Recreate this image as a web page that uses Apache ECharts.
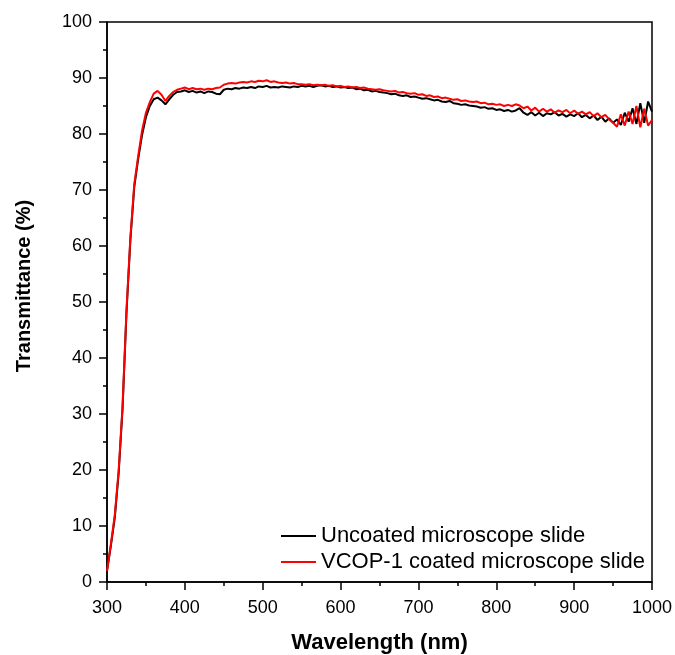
<!DOCTYPE html>
<html>
<head>
<meta charset="utf-8">
<script src="https://cdn.jsdelivr.net/npm/echarts@6/dist/echarts.min.js"></script>
<style>html,body{margin:0;padding:0;background:#fff;}#c{width:675px;height:655px;}</style>
</head>
<body>
<div id="c"></div>
<script>
const wavelength = [300,305,310,315,320,325,330,335,340,345,350,355,360,365,370,375,380,385,390,395,
400,405,410,415,420,425,430,435,440,445,450,455,460,465,470,475,480,485,490,495,
500,505,510,515,520,525,530,535,540,545,550,555,560,565,570,575,580,585,590,595,
600,605,610,615,620,625,630,635,640,645,650,655,660,665,670,675,680,685,690,695,
700,705,710,715,720,725,730,735,740,745,750,755,760,765,770,775,780,785,790,795,
800,805,810,815,820,825,830,835,840,845,850,855,860,865,870,875,880,885,890,895,
900,905,910,915,920,925,930,935,940,945,950,955,960,965,970,975,980,985,990,995,1000];

const uncoated = [2.0,6.5,11.5,19.5,31.0,48.0,61.0,70.5,75.5,79.8,83.0,85.0,86.2,86.5,86.0,85.3,86.2,87.0,87.5,87.6,
87.8,87.5,87.7,87.4,87.6,87.3,87.6,87.5,87.2,87.1,87.9,88.1,88.0,88.2,88.1,88.3,88.2,88.4,88.2,88.5,
88.4,88.6,88.3,88.4,88.3,88.5,88.4,88.3,88.5,88.4,88.6,88.5,88.6,88.4,88.6,88.7,88.5,88.6,88.4,88.5,
88.3,88.4,88.2,88.3,88.0,88.1,87.8,87.9,87.6,87.7,87.5,87.4,87.3,87.1,87.2,86.9,86.8,86.9,86.6,86.7,
86.5,86.3,86.4,86.2,86.0,86.1,85.8,85.7,85.9,85.5,85.4,85.2,85.3,85.1,85.0,84.9,84.7,84.8,84.5,84.6,
84.3,84.4,84.1,84.3,84.0,84.2,84.6,83.8,83.4,83.9,83.3,83.8,83.2,83.7,83.5,83.9,83.3,83.6,83.1,83.5,
83.2,83.7,83.0,83.4,82.8,83.3,82.5,83.1,82.2,82.8,82.0,82.6,81.6,83.8,82.2,84.6,81.8,85.5,82.0,85.8,84.0];

const coated = [2.0,6.8,12.0,20.0,31.5,48.5,61.5,71.0,76.0,80.6,83.8,85.7,87.2,87.7,87.0,85.9,86.8,87.5,87.9,88.1,
88.3,88.0,88.2,88.0,88.1,87.9,88.1,88.0,88.2,88.3,88.8,89.0,89.1,89.0,89.2,89.3,89.2,89.4,89.3,89.5,
89.4,89.6,89.3,89.4,89.2,89.1,89.2,89.0,89.1,88.9,88.9,88.8,88.9,88.7,88.8,88.7,88.8,88.6,88.7,88.5,
88.6,88.4,88.5,88.3,88.4,88.2,88.3,88.1,88.0,87.9,88.0,87.8,87.7,87.6,87.7,87.4,87.5,87.3,87.2,87.3,
87.0,87.1,86.8,86.9,86.6,86.7,86.4,86.5,86.3,86.1,86.2,85.9,86.0,85.8,85.7,85.8,85.5,85.6,85.3,85.4,
85.2,85.3,85.0,85.2,85.0,85.3,85.1,84.6,84.9,84.2,84.7,84.0,84.5,84.0,84.4,83.8,84.2,83.9,84.3,83.7,
84.2,83.6,84.0,83.5,83.9,83.2,83.7,83.0,83.4,82.6,82.0,81.3,83.5,81.5,84.0,81.8,85.0,81.2,84.5,81.5,82.5];

const seriesNames = ['Uncoated microscope slide', 'VCOP-1 coated microscope slide'];
const xTitle = 'Wavelength (nm)';
const yTitle = 'Transmittance (%)';

const chart = echarts.init(document.getElementById('c'), null, {renderer: 'canvas'});
const font = 'Arial, "Liberation Sans", sans-serif';
const axisCommon = {
  axisLine: {show: true, lineStyle: {color: '#000', width: 1.5}},
  axisTick: {show: true, inside: false, length: 8, lineStyle: {color: '#000', width: 1.5}},
  minorTick: {show: true, splitNumber: 2, length: 4, lineStyle: {color: '#000', width: 1.5}},
  splitLine: {show: false},
  axisLabel: {color: '#000', fontSize: 18, fontFamily: font, formatter: v => String(v)}
};
chart.setOption({
  animation: false,
  backgroundColor: '#fff',
  grid: {left: 107, right: 23, top: 22, bottom: 73, containLabel: false, outerBoundsMode: 'none',
         show: true, borderColor: '#000', borderWidth: 1.5, backgroundColor: 'transparent'},
  legend: {
    orient: 'vertical', left: 281, top: 525, padding: 0, itemWidth: 35, itemHeight: 2, itemGap: 4,
    icon: 'rect',
    textStyle: {color: '#000', fontSize: 22, fontFamily: font},
    data: seriesNames
  },
  xAxis: Object.assign({}, axisCommon, {
    type: 'value', min: 300, max: 1000, interval: 100,
    name: xTitle, nameLocation: 'middle', nameGap: 50,
    nameTextStyle: {color: '#000', fontSize: 22, fontWeight: 'bold', fontFamily: font},
    axisLabel: Object.assign({}, axisCommon.axisLabel, {margin: 17})
  }),
  yAxis: Object.assign({}, axisCommon, {
    type: 'value', min: 0, max: 100, interval: 10,
    name: yTitle, nameLocation: 'middle', nameGap: 73,
    nameTextStyle: {color: '#000', fontSize: 20, fontWeight: 'bold', fontFamily: font, padding: [0, 0, 0, 32]},
    axisLabel: Object.assign({}, axisCommon.axisLabel, {margin: 15})
  }),
  series: [
    {name: seriesNames[0], type: 'line', showSymbol: false, symbol: 'none',
     lineStyle: {color: '#000', width: 2}, itemStyle: {color: '#000'},
     data: wavelength.map((w, i) => [w, uncoated[i]])},
    {name: seriesNames[1], type: 'line', showSymbol: false, symbol: 'none',
     lineStyle: {color: '#ff0000', width: 2}, itemStyle: {color: '#ff0000'},
     data: wavelength.map((w, i) => [w, coated[i]])}
  ]
});
</script>
</body>
</html>
